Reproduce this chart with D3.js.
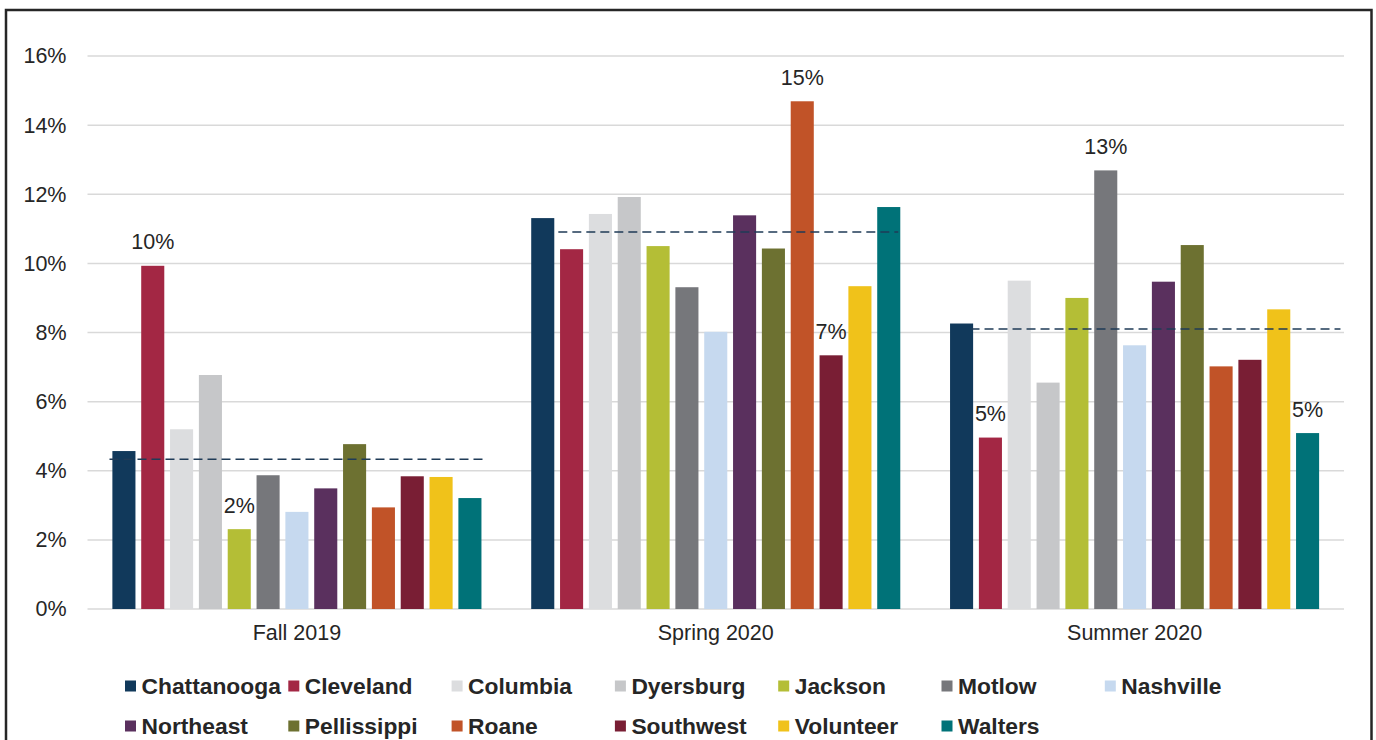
<!DOCTYPE html>
<html>
<head>
<meta charset="utf-8">
<script src="https://cdn.jsdelivr.net/npm/d3@7"></script>
<style>
  html, body { margin: 0; padding: 0; background: #fff; }
  svg { display: block; font-family: "Liberation Sans", Arial, sans-serif; }
</style>
</head>
<body>
<svg id="chart" width="1376" height="740"></svg>
<script>
// Terms shown along the x axis
const terms = ["Fall 2019", "Spring 2020", "Summer 2020"];

// Colleges (one bar per college in each term)
const colleges = ["Chattanooga", "Cleveland", "Columbia", "Dyersburg", "Jackson", "Motlow",
  "Nashville", "Northeast", "Pellissippi", "Roane", "Southwest", "Volunteer", "Walters"];

const collegeColors = ["#11395b", "#a32744", "#dcdddf", "#c6c7c9", "#b4be36", "#76777b",
  "#c6d9ef", "#5a305e", "#6d7131", "#c15328", "#791e34", "#f0c21a", "#007278"];

// Rates per college, in percent
const fall2019 = [4.57, 9.93, 5.20, 6.77, 2.31, 3.87, 2.81, 3.49, 4.77, 2.94, 3.84, 3.82, 3.21];
const spring2020 = [11.31, 10.41, 11.43, 11.92, 10.50, 9.31, 8.02, 11.39, 10.43, 14.69, 7.34, 9.34, 11.63];
const summer2020 = [8.26, 4.96, 9.50, 6.55, 9.00, 12.69, 7.63, 9.47, 10.53, 7.02, 7.21, 8.67, 5.09];

// System-wide average for each term (dashed reference lines)
const termAverages = [4.33, 10.91, 8.10];

// Bars that carry a value label: [term index, college index]
const labelled = [[0, 1], [0, 4], [1, 9], [1, 10], [2, 1], [2, 5], [2, 12]];

// Y axis ticks
const yTicks = [0, 2, 4, 6, 8, 10, 12, 14, 16];

const seriesByTerm = [fall2019, spring2020, summer2020];

const svg = d3.select("#chart");
const margin = { left: 87.5, right: 32, top: 56, bottom: 131 };
const W = 1376, H = 740;
const plotBottom = H - margin.bottom; // 609
const textColor = "#262626";

// Outer frame
svg.append("rect")
  .attr("x", 6).attr("y", 10)
  .attr("width", 1365.5).attr("height", 760)
  .attr("fill", "none").attr("stroke", "#262626").attr("stroke-width", 2.5);

const y = d3.scaleLinear().domain([0, 16]).range([plotBottom, margin.top]);
const x0 = d3.scaleBand().domain(terms).range([margin.left, W - margin.right]).paddingInner(0).paddingOuter(0);
const x1 = d3.scaleBand().domain(colleges).range([0, x0.bandwidth()]).paddingInner(0.2).paddingOuter(0.863);

// Gridlines
svg.append("g").selectAll("line")
  .data(yTicks)
  .join("line")
  .attr("x1", margin.left).attr("x2", W - margin.right)
  .attr("y1", d => y(d)).attr("y2", d => y(d))
  .attr("stroke", "#d9d9d9").attr("stroke-width", 1.5);

// Y axis labels
const yAxis = d3.axisLeft(y).tickValues(yTicks).tickSize(0).tickPadding(21).tickFormat(d => d + "%");
const yG = svg.append("g").attr("transform", `translate(${margin.left},0)`).call(yAxis);
yG.select(".domain").remove();
yG.selectAll("text").attr("fill", textColor).attr("font-size", 21.5)
  .attr("font-family", "'Liberation Sans', Arial, sans-serif");

// X axis labels
const xAxis = d3.axisBottom(x0).tickSize(0).tickPadding(16);
const xG = svg.append("g").attr("transform", `translate(0,${plotBottom})`).call(xAxis);
xG.select(".domain").remove();
xG.selectAll("text").attr("fill", textColor).attr("font-size", 21.5)
  .attr("font-family", "'Liberation Sans', Arial, sans-serif");

// Bars
const groups = svg.append("g").selectAll("g")
  .data(terms)
  .join("g")
  .attr("transform", d => `translate(${x0(d)},0)`);

groups.selectAll("rect")
  .data((t, ti) => colleges.map((c, ci) => ({ college: c, ci, value: seriesByTerm[ti][ci] })))
  .join("rect")
  .attr("x", d => x1(d.college))
  .attr("width", x1.bandwidth())
  .attr("y", d => y(d.value))
  .attr("height", d => plotBottom - y(d.value))
  .attr("fill", d => collegeColors[d.ci]);

// Average reference lines, spanning a range measured in bar steps from the first bar
const step = x1.step();
const avgSpan = [[-0.1, 12.87], [0.94, 12.73], [0.71, 13.54]];
svg.append("g").selectAll("line")
  .data(terms)
  .join("line")
  .attr("x1", (t, i) => x0(t) + x1(colleges[0]) + avgSpan[i][0] * step)
  .attr("x2", (t, i) => x0(t) + x1(colleges[0]) + avgSpan[i][1] * step)
  .attr("y1", (t, i) => y(termAverages[i]))
  .attr("y2", (t, i) => y(termAverages[i]))
  .attr("stroke", "#1f3b57").attr("stroke-width", 1.5)
  .attr("stroke-dasharray", "9,5");

// Value labels
const fmt = v => d3.format(".0f")(v) + "%";
svg.append("g").selectAll("text")
  .data(labelled)
  .join("text")
  .attr("x", ([ti, ci]) => x0(terms[ti]) + x1(colleges[ci]) + x1.bandwidth() / 2)
  .attr("y", ([ti, ci]) => y(seriesByTerm[ti][ci]) - 16.5)
  .attr("text-anchor", "middle")
  .attr("fill", textColor)
  .attr("font-size", 21.5)
  .text(([ti, ci]) => fmt(seriesByTerm[ti][ci]));

// Legend: 7 columns, 2 rows
const legendCol = d3.scaleLinear().domain([0, 1]).range([125, 288.3]);
const legendRow = d3.scaleLinear().domain([0, 1]).range([686, 726]);
const legend = svg.append("g").selectAll("g")
  .data(colleges)
  .join("g")
  .attr("transform", (d, i) => `translate(${legendCol(i % 7)},${legendRow(Math.floor(i / 7))})`);

legend.append("rect")
  .attr("x", 0).attr("y", -5.5)
  .attr("width", 11).attr("height", 11)
  .attr("fill", (d, i) => collegeColors[i]);

legend.append("text")
  .attr("x", 16.5).attr("y", 0).attr("dy", "0.36em")
  .attr("fill", textColor)
  .attr("font-size", 22.8)
  .attr("font-weight", "bold")
  .text(d => d);
</script>
</body>
</html>
